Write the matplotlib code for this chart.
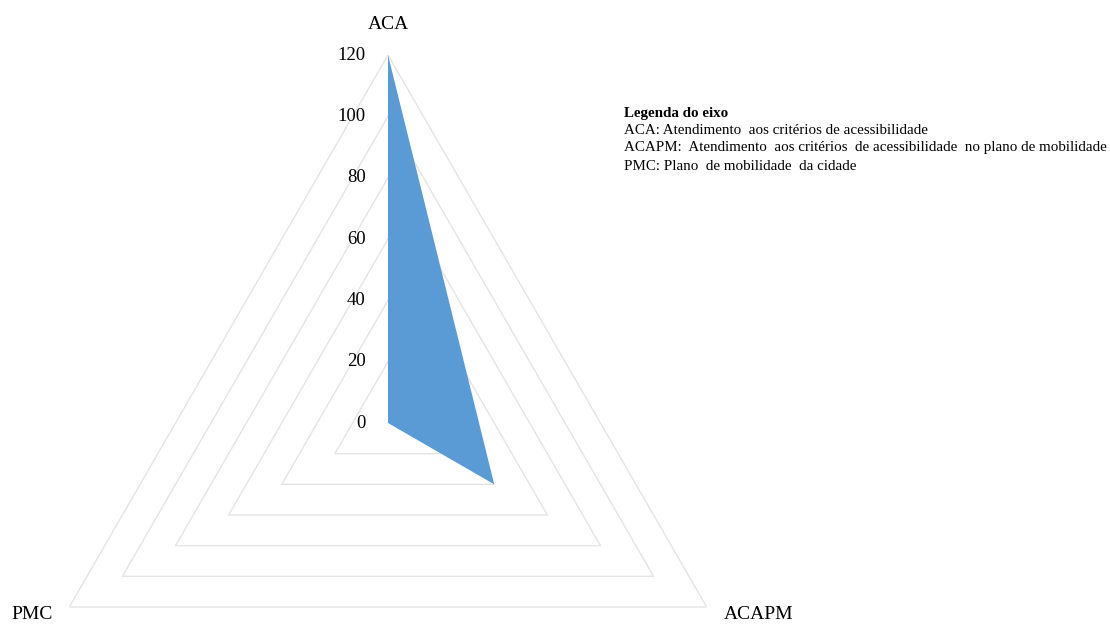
import numpy as np
import matplotlib.pyplot as plt

# radar data: one value per axis
categories = ["ACA", "ACAPM", "PMC"]
values = [120, 40, 0]
ring_levels = [0, 20, 40, 60, 80, 100, 120]
legend_title = "Legenda do eixo"
legend_lines = [
    "ACA: Atendimento  aos critérios de acessibilidade",
    "ACAPM:  Atendimento  aos critérios  de acessibilidade  no plano de mobilidade",
    "PMC: Plano  de mobilidade  da cidade",
]

plt.rcParams["font.family"] = ["Liberation Serif", "DejaVu Serif"]

fig = plt.figure(figsize=(11.1, 6.26), dpi=100)
ax = fig.add_axes([20 / 1110, -165 / 626, 736 / 1110, 736 / 626], projection="polar")
ax.set_theta_offset(np.pi / 2)
ax.set_theta_direction(-1)

n = len(categories)
angles = np.arange(n) * 2 * np.pi / n
closed = np.append(angles, angles[0])

# triangular gridlines
for lvl in ring_levels[1:]:
    ax.plot(closed, [lvl] * (n + 1), color="#e4e4e4", lw=1, zorder=1)

vals = np.append(values, values[0])
ax.fill(closed, vals, color="#5b9bd5", lw=0, zorder=2)

ax.set_ylim(0, 120)
ax.grid(False)
ax.spines["polar"].set_visible(False)
ax.set_xticks([])
ax.set_yticks([])
ax.patch.set_alpha(0)

# radial tick labels along the first axis
for lvl in ring_levels:
    ax.annotate(str(lvl), xy=(0, lvl), xytext=(-16, 0), textcoords="offset points",
                ha="right", va="center", fontsize=13.5, annotation_clip=False)

# category labels outside the outer ring
offsets = [(0, 16, "center", "bottom"), (12, -5.5, "left", "center"), (-12, -5.5, "right", "center")]
for ang, lab, (dx, dy, ha, va) in zip(angles, categories, offsets):
    ax.annotate(lab, xy=(ang, 120), xytext=(dx, dy), textcoords="offset points",
                ha=ha, va=va, fontsize=14, annotation_clip=False)

fig.text(624 / 1110, 1 - 113 / 626, legend_title, fontsize=10.8, weight="bold", va="center")
for i, line in enumerate(legend_lines):
    fig.text(624 / 1110, 1 - (130 + 18 * i) / 626, line, fontsize=10.8, va="center")

fig.savefig("out.png", dpi=100)
